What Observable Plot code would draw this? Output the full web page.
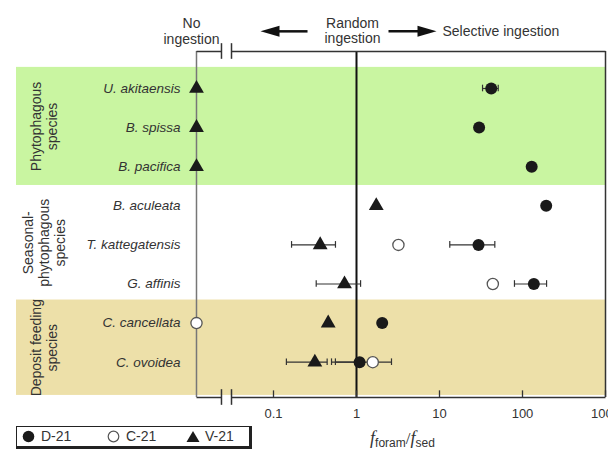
<!DOCTYPE html>
<html>
<head>
<meta charset="utf-8">
<script src="https://cdn.jsdelivr.net/npm/d3@7"></script>
<script src="https://cdn.jsdelivr.net/npm/@observablehq/plot@0.6"></script>
<style>
  body { margin: 0; background: #fff; }
  #wrap { position: relative; width: 608px; height: 452px; font-family: "Liberation Sans", Arial, sans-serif; color: #333; }
  #legend { position: absolute; left: 16px; top: 426px; width: 232px; height: 19px;
            border: 1.5px solid #222; border-right-width: 3px; border-bottom-width: 3px; background: #fff; font-size: 14px; }
  #legend span { position: absolute; top: 1px; }
</style>
</head>
<body>
<div id="wrap"></div>
<script>
// ---- data ----
const species = ["U. akitaensis", "B. spissa", "B. pacifica", "B. aculeata",
                 "T. kattegatensis", "G. affinis", "C. cancellata", "C. ovoidea"];
const groups = ["Phytophagous\nspecies", "Seasonal-\nphytophagous\nspecies", "Deposit feeding\nspecies"];
const groupColors = ["#c9f5a1", "none", "#ede0a9"];
const seriesNames = ["D-21", "C-21", "V-21"];
// value 0 = no ingestion
const d21   = [42, 30, 129, 193, 29.5, 137, 2.04, 1.09];
const d21Lo = [33, null, null, null, 13.3, 80, null, 0.50];
const d21Hi = [51, null, null, null, 46.4, 195, null, 1.2];
const c21   = [null, null, null, null, 3.2, 43.9, 0, 1.57];
const c21Lo = [null, null, null, null, null, null, null, 0.557];
const c21Hi = [null, null, null, null, null, null, null, 2.64];
const v21   = [0, 0, 0, 1.73, 0.365, 0.717, 0.456, 0.315];
const v21Lo = [null, null, null, null, 0.165, 0.327, null, 0.143];
const v21Hi = [null, null, null, null, 0.558, 1.12, null, 0.443];
const xTicks = [0.1, 1, 10, 100, 1000];
const xTickLabels = ["0.1", "1", "10", "100", "1000"];

// ---- layout ----
const XMIN = 8.01e-5, XMAX = 1000;
const NO_X = 0.01181;              // position of "No ingestion"
const BRK = [0.02362, 0.03119];    // axis break
const TOP = -0.9463, BOT = 7.9028; // axis lines (row units)
const bandEdges = [-0.54, 2.48, 5.41, 7.85];
const pos = v => (v === 0 ? NO_X : v);

const rows = species.map((s, i) => ({s, i}));
const errs = [];
[[d21Lo, d21Hi], [c21Lo, c21Hi], [v21Lo, v21Hi]].forEach(([lo, hi]) => {
  species.forEach((s, i) => { if (lo[i] != null) errs.push({i, lo: lo[i], hi: hi[i]}); });
});
const caps = errs.flatMap(e => [{i: e.i, x: e.lo}, {i: e.i, x: e.hi}]);

const bands = groups.map((g, k) => ({g, k, y1: bandEdges[k], y2: bandEdges[k + 1], fill: groupColors[k]}));
const axisSegs = [TOP, BOT].flatMap(y => [{y, x1: NO_X, x2: BRK[0]}, {y, x1: BRK[1], x2: XMAX}]);
const breakMarks = [TOP, BOT].flatMap(y => BRK.map(x => ({x, y})));

const arrowHead = {
  draw(ctx) { ctx.moveTo(10, 0); ctx.lineTo(-9, -5.5); ctx.lineTo(-9, 5.5); ctx.closePath(); }
};
const arrows = [
  {x1: 0.257, x2: 0.11, head: 0.092, rot: 180},
  {x1: 2.43, x2: 5.9, head: 6.97, rot: 0}
];
const ARROW_Y = -1.462;

const plot = Plot.plot({
  width: 608, height: 452,
  marginLeft: 16, marginRight: 3, marginTop: 51, marginBottom: 55,
  style: {fontFamily: "'Liberation Sans', Arial, sans-serif", fontSize: "13.5px", color: "#333", background: "transparent", overflow: "visible"},
  x: {type: "log", domain: [XMIN, XMAX], axis: null},
  y: {type: "linear", domain: [TOP, BOT], reverse: true, axis: null},
  marks: [
    Plot.rect(bands, {x1: XMIN, x2: XMAX, y1: "y1", y2: "y2", fill: d => d.fill}),
    Plot.text(bands, {x: XMIN, dx: 27, y: d => (d.y1 + d.y2) / 2, text: "g", rotate: -90,
                      lineHeight: 1.15, fontSize: 14, fill: "#333"}),
    // vertical reference lines
    Plot.ruleX([NO_X], {y1: TOP, y2: BOT, stroke: "#777", strokeWidth: 1.5}),
    Plot.ruleX([1], {y1: TOP, y2: BOT, stroke: "#111", strokeWidth: 2}),
    Plot.ruleX([XMAX], {y1: TOP, y2: BOT, stroke: "#333", strokeWidth: 1.5}),
    // axis lines with break
    Plot.link(axisSegs, {x1: "x1", x2: "x2", y1: "y", y2: "y", stroke: "#333", strokeWidth: 1.5}),
    Plot.ruleX(breakMarks, {x: "x", y1: d => d.y - 0.2, y2: d => d.y + 0.2, stroke: "#333", strokeWidth: 1.5}),
    Plot.ruleX(xTicks, {y1: BOT, y2: BOT - 0.17, stroke: "#333", strokeWidth: 1.3}),
    Plot.text(xTicks, {x: d => d, y: BOT, dy: 16, text: (d, i) => xTickLabels[i], fontSize: 13, fill: "#333"}),
    // species labels
    Plot.text(rows, {x: NO_X, dx: -16, y: "i", text: "s", textAnchor: "end", fontStyle: "italic", fontSize: 13.5, fill: "#333"}),
    // error bars
    Plot.link(errs, {x1: "lo", x2: "hi", y1: "i", y2: "i", stroke: "#333", strokeWidth: 1.2}),
    Plot.ruleX(caps, {x: "x", y1: d => d.i - 0.085, y2: d => d.i + 0.085, stroke: "#333", strokeWidth: 1.2}),
    // points
    Plot.dot(rows.filter(d => v21[d.i] != null), {x: d => pos(v21[d.i]), y: "i", symbol: "triangle", r: 5.5, fill: "#1a1a1a"}),
    Plot.dot(rows.filter(d => d21[d.i] != null), {x: d => pos(d21[d.i]), y: "i", r: 6, fill: "#1a1a1a"}),
    Plot.dot(rows.filter(d => c21[d.i] != null), {x: d => pos(c21[d.i]), y: "i", r: 5.6, fill: "#fff", stroke: "#555", strokeWidth: 1.3}),
    // top annotations
    Plot.text(["No\ningestion"], {x: NO_X, dx: -5, y: -1.468, text: d => d, lineHeight: 1.15, fontSize: 14, fill: "#333"}),
    Plot.text(["Random\ningestion"], {x: 1, dx: -4, y: -1.478, text: d => d, lineHeight: 1.1, fontSize: 14, fill: "#333"}),
    Plot.text(["Selective ingestion"], {x: 1, dx: 86, y: -1.47, text: d => d, textAnchor: "start", fontSize: 14, fill: "#333"}),
    Plot.link(arrows, {x1: "x1", x2: "x2", y1: ARROW_Y, y2: ARROW_Y, stroke: "#111", strokeWidth: 2.5}),
    Plot.dot(arrows, {x: "head", y: ARROW_Y, symbol: arrowHead, rotate: "rot", fill: "#111", stroke: "none"})
  ]
});

document.getElementById("wrap").appendChild(plot);

// x-axis label with subscripts
const xs = plot.scale("x");
const lab = d3.select(plot).append("text")
  .attr("x", xs.apply(Math.sqrt(10)) + 5)
  .attr("y", 444)
  .attr("text-anchor", "middle")
  .attr("fill", "#333")
  .style("font-size", "15px");
lab.append("tspan").style("font-family", "'Liberation Serif', serif").style("font-style", "italic").style("font-size", "18px").text("f");
lab.append("tspan").attr("dy", 3).style("font-size", "12px").text("foram");
lab.append("tspan").attr("dy", -3).style("font-family", "'Liberation Serif', serif").style("font-size", "17px").text("/");
lab.append("tspan").style("font-family", "'Liberation Serif', serif").style("font-style", "italic").style("font-size", "18px").text("f");
lab.append("tspan").attr("dy", 3).style("font-size", "12px").text("sed");

// legend (HTML, below-left)
const legend = document.createElement("div");
legend.id = "legend";
const sym = {
  "D-21": '<svg width="13" height="13"><circle cx="6.5" cy="6.5" r="5.8" fill="#1a1a1a"/></svg>',
  "C-21": '<svg width="13" height="13"><circle cx="6.5" cy="6.5" r="5.3" fill="#fff" stroke="#555" stroke-width="1.2"/></svg>',
  "V-21": '<svg width="14" height="13"><path d="M7,1 L13.5,12 L0.5,12 Z" fill="#1a1a1a"/></svg>'
};
const symLeft = [5, 90, 169], textLeft = [24, 109, 188];
seriesNames.forEach((n, k) => {
  legend.innerHTML += `<span style="left:${symLeft[k]}px;top:3px">${sym[n]}</span><span style="left:${textLeft[k]}px">${n}</span>`;
});
document.getElementById("wrap").appendChild(legend);
</script>
</body>
</html>
